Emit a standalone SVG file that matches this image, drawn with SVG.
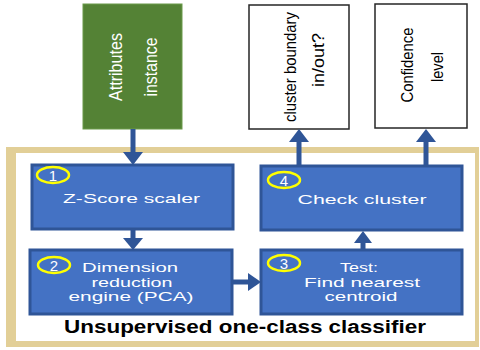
<svg xmlns="http://www.w3.org/2000/svg" width="480" height="350" viewBox="0 0 480 350">
<style>
.blk{fill:#4472C4;stroke:#2F5597;stroke-width:3}
.wt{font-family:"Liberation Sans",Arial,sans-serif;font-size:13px;fill:#ffffff;text-anchor:middle}
.num{fill:none;stroke:#FFFF00;stroke-width:2.5}
.nt{font-family:"Liberation Sans",Arial,sans-serif;font-size:15px;fill:#ffffff;text-anchor:middle}
.vt{font-family:"Liberation Sans",Arial,sans-serif;font-size:18px;text-anchor:middle}
.vs{font-family:"Liberation Sans",Arial,sans-serif;font-size:16px;text-anchor:middle;fill:#000000}
.con{stroke:#2F5597;stroke-width:5;fill:none}
.ah{fill:#2F5597}
.ob{fill:#ffffff;stroke:#262626;stroke-width:1.5}
</style>
<rect x="0" y="0" width="480" height="350" fill="#ffffff"/>
<g id="frame">
<rect x="6" y="147" width="473" height="200" fill="#E2CF97"/>
<rect x="16" y="153" width="459" height="188" fill="#ffffff"/>
<text x="245" y="333" font-family="Liberation Sans,Arial,sans-serif" font-size="17.5" font-weight="bold" text-anchor="middle" fill="#000000" textLength="362" lengthAdjust="spacingAndGlyphs">Unsupervised one-class classifier</text>
</g>
<g id="input">
<rect x="83" y="4" width="99" height="125" fill="#548235" stroke="#6A9A4A" stroke-width="1"/>
<text class="vt" fill="#ffffff" transform="translate(122,67) rotate(-90)" textLength="68" lengthAdjust="spacingAndGlyphs">Attributes</text>
<text class="vt" fill="#ffffff" transform="translate(157,67) rotate(-90)" textLength="59" lengthAdjust="spacingAndGlyphs">instance</text>
</g>
<g id="out1">
<rect class="ob" x="249" y="5" width="100" height="124"/>
<text class="vs" transform="translate(296,67) rotate(-90)" textLength="110" lengthAdjust="spacingAndGlyphs">cluster boundary</text>
<text class="vs" transform="translate(324,60) rotate(-90)" textLength="54" lengthAdjust="spacingAndGlyphs">in/out?</text>
</g>
<g id="out2">
<rect class="ob" x="375" y="4" width="92" height="124"/>
<text class="vs" transform="translate(413,65) rotate(-90)" textLength="75" lengthAdjust="spacingAndGlyphs">Confidence</text>
<text class="vs" transform="translate(443,67) rotate(-90)" textLength="30" lengthAdjust="spacingAndGlyphs">level</text>
</g>
<g id="n1">
<rect class="blk" x="32" y="165" width="201" height="64"/>
<ellipse class="num" cx="53" cy="175" rx="16" ry="8"/>
<text class="nt" x="53" y="180.5">1</text>
<text class="wt" x="131.5" y="203" textLength="137" lengthAdjust="spacingAndGlyphs">Z-Score scaler</text>
</g>
<g id="n2">
<rect class="blk" x="30" y="250" width="202" height="64"/>
<ellipse class="num" cx="54" cy="265" rx="16" ry="8"/>
<text class="nt" x="54" y="270.5">2</text>
<text class="wt" x="130" y="272" textLength="96" lengthAdjust="spacingAndGlyphs">Dimension</text>
<text class="wt" x="132" y="287" textLength="81" lengthAdjust="spacingAndGlyphs">reduction</text>
<text class="wt" x="131" y="301" textLength="125" lengthAdjust="spacingAndGlyphs">engine (PCA)</text>
</g>
<g id="n3">
<rect class="blk" x="261" y="250" width="201" height="64"/>
<ellipse class="num" cx="284" cy="263" rx="16" ry="8"/>
<text class="nt" x="284" y="268.5">3</text>
<text class="wt" x="359" y="272" textLength="38" lengthAdjust="spacingAndGlyphs">Test:</text>
<text class="wt" x="362" y="287" textLength="116" lengthAdjust="spacingAndGlyphs">Find nearest</text>
<text class="wt" x="361" y="301" textLength="73" lengthAdjust="spacingAndGlyphs">centroid</text>
</g>
<g id="n4">
<rect class="blk" x="261" y="166" width="201" height="64"/>
<ellipse class="num" cx="284" cy="180" rx="16" ry="8"/>
<text class="nt" x="284" y="185.5">4</text>
<text class="wt" x="362" y="203.5" textLength="129" lengthAdjust="spacingAndGlyphs">Check cluster</text>
</g>
<g id="connectors">
<line class="con" x1="133" y1="129" x2="133" y2="154"/>
<polygon class="ah" points="123,152 143,152 133,165"/>
<line class="con" x1="133" y1="229" x2="133" y2="240"/>
<polygon class="ah" points="123,238 143,238 133,250"/>
<line class="con" x1="232" y1="282" x2="250" y2="282"/>
<polygon class="ah" points="248,273 248,291 261,282"/>
<line class="con" x1="363" y1="250" x2="363" y2="242"/>
<polygon class="ah" points="354,243 372,243 363,231"/>
<line class="con" x1="299" y1="166" x2="299" y2="141"/>
<polygon class="ah" points="289,142 309,142 299,129"/>
<line class="con" x1="426" y1="166" x2="426" y2="141"/>
<polygon class="ah" points="416,142 436,142 426,129"/>
</g>
</svg>
